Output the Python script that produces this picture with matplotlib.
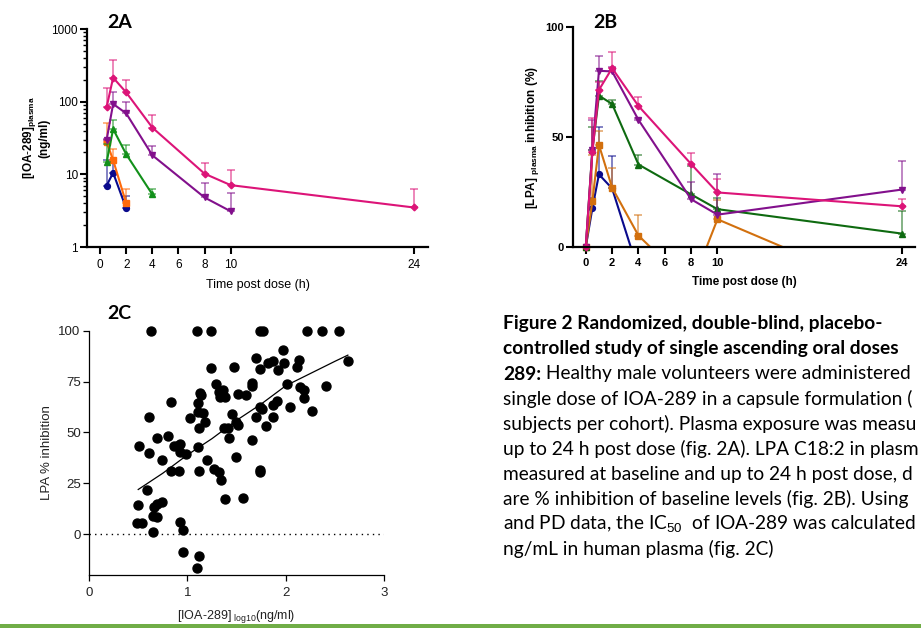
import matplotlib
matplotlib.use("Agg")
import matplotlib.pyplot as plt
import matplotlib.ticker as mticker
from matplotlib.patches import Rectangle
import numpy as np

plt.rcParams['font.family'] = ['Liberation Sans', 'DejaVu Sans']
plt.rcParams['mathtext.fontset'] = 'custom'
plt.rcParams['mathtext.rm'] = 'Liberation Sans'
plt.rcParams['mathtext.bf'] = 'Liberation Sans:bold'

# ---- 2A: plasma concentration (ng/ml), upper error ends
pk_blue_t = [0.5, 1, 2]
pk_blue = [7.0, 10.5, 3.4]
pk_blue_up = [15.7, 15.0, 5.1]
pk_orange_t = [0.5, 1, 2]
pk_orange = [28, 15.7, 4.0]
pk_orange_up = [51, 22, 6.2]
pk_green_t = [0.5, 1, 2, 4]
pk_green = [14.6, 42, 18.9, 5.3]
pk_green_up = [26, 56, 25, 6.3]
pk_purple_t = [0.5, 1, 2, 4, 8, 10]
pk_purple = [29.7, 93, 69, 18.3, 4.8, 3.1]
pk_purple_up = [31, 137, 100, 24.8, 7.7, 5.6]
pk_pink_t = [0.5, 1, 2, 4, 8, 10, 24]
pk_pink = [83.6, 214, 134, 44, 10.2, 7.1, 3.5]
pk_pink_up = [156, 374, 201, 65, 14.3, 11.6, 6.35]

# ---- 2B: LPA inhibition (%)
pd_t = [0, 0.5, 1, 2, 4, 8, 10, 24]
pd_blue_t = [0, 0.5, 1, 2, 4]
pd_blue = [0, 17.6, 33, 26.6, -11]
pd_blue_up = [np.nan, 22.5, 54.4, 41.5, np.nan]
pd_orange = [0, 20.7, 46.4, 27, 5.2, -18, 12.6, -23]
pd_orange_up = [np.nan, 42, 52.9, 35.7, 14.4, np.nan, 21.3, np.nan]
pd_green = [0, 44, 68.8, 65, 37.5, 23.9, 17.2, 6.1]
pd_green_up = [np.nan, 54.7, 75.5, 66.7, 41.6, 36.9, 22.3, 16.4]
pd_purple = [0, 44, 80.1, 79.8, 57.8, 21.7, 14.7, 26.1]
pd_purple_up = [np.nan, 57.8, 87, 82, 58.5, 29.6, 33.4, 38.9]
pd_pink = [0, 43, 71.4, 81.3, 64.1, 37.7, 24.8, 18.5]
pd_pink_up = [np.nan, 58.5, 75, 88.6, 68.4, 42.9, 31.0, 22.0]

# ---- 2C: PK/PD scatter
sc_x = [0.63, 1.10, 1.24, 1.74, 1.77, 2.21, 2.37, 2.54,
        2.63, 1.97, 1.70, 1.74, 1.82, 1.87, 1.92, 1.98, 2.13, 2.11,
        1.24, 1.47, 1.29, 1.32, 1.36, 1.33, 1.38, 1.51, 1.59, 1.66, 1.66,
        2.01, 2.14, 2.18, 2.18, 2.41, 2.27, 2.04, 1.91, 1.87, 1.74, 1.76,
        1.70, 1.87, 1.80, 1.66, 1.74, 1.74,
        1.13, 1.14, 1.11, 1.11, 1.16, 1.03, 1.18, 1.12, 1.45, 1.49, 1.51,
        1.37, 1.41, 1.42, 1.49, 1.11, 1.20, 1.12, 1.27, 1.32, 1.34, 1.38, 1.56,
        0.99, 0.92, 0.89, 0.92, 0.86, 0.80, 0.83, 0.69, 0.61, 0.51, 0.61,
        0.74, 0.83, 0.91, 0.59, 0.50, 0.74, 0.69, 0.66, 0.65, 0.69,
        0.49, 0.54, 0.65, 0.92, 0.95, 0.95, 1.12, 1.10]
sc_y = [100, 100, 100, 100, 100, 100, 100, 100,
        85.1, 90.3, 86.4, 81.2, 84.3, 85.1, 80.7, 84.3, 85.6, 82.2,
        81.8, 82.3, 73.6, 70.0, 70.9, 67.3, 67.6, 68.7, 68.2, 74.1, 72.8,
        73.6, 72.2, 70.9, 67.1, 72.8, 60.7, 62.7, 65.5, 63.5, 62.4, 61.4,
        57.8, 57.4, 53.2, 46.3, 31.6, 30.8,
        69.2, 68.2, 64.3, 60.2, 59.4, 57.3, 55.3, 52.4, 59.1, 55.3, 53.7,
        52.0, 52.0, 47.1, 38.1, 43.0, 36.5, 31.1, 32.1, 30.8, 26.7, 17.2, 18.0,
        39.3, 44.4, 43.4, 40.6, 43.4, 48.3, 65.1, 47.5, 57.4, 43.4, 39.8,
        36.5, 31.1, 31.1, 21.6, 14.4, 16.0, 14.7, 13.6, 9.0, 8.3,
        5.7, 5.4, 1.3, 6.2, 2.1, -8.8, -10.5, -16.7]
fit_x = [0.5, 0.75, 1.0, 1.25, 1.5, 1.75, 2.0, 2.25, 2.5, 2.63]
fit_y = [22, 30, 39, 47, 56, 64, 73, 79, 85, 88]

# caption as it shows inside the cropped panel
caption = [
    [("Figure 2 Randomized, double-blind, placebo-", "bold")],
    [("controlled study of single ascending oral doses", "bold")],
    [("289:", "bold"), (" Healthy male volunteers were administered", "normal")],
    [("single dose of IOA-289 in a capsule formulation (", "normal")],
    [("subjects per cohort). Plasma exposure was measu", "normal")],
    [("up to 24 h post dose (fig. 2A). LPA C18:2 in plasm", "normal")],
    [("measured at baseline and up to 24 h post dose, d", "normal")],
    [("are % inhibition of baseline levels (fig. 2B). Using", "normal")],
    [("and PD data, the IC$_{50}$  of IOA-289 was calculated", "normal")],
    [("ng/mL in human plasma (fig. 2C)", "normal")],
]

W, H = 921, 628
fig = plt.figure(figsize=(W / 100, H / 100), dpi=100)


def axrect(l, r, t, b):
    return [l / W, 1 - b / H, (r - l) / W, (b - t) / H]


def pk_series(ax, t, y, up, color, marker, ms):
    y = np.array(y)
    up = np.array(up)
    ax.errorbar(t, y, yerr=[np.zeros_like(y), up - y], fmt='none', ecolor=color,
                alpha=0.55, elinewidth=1.3, capsize=2.8, capthick=1.3)
    ax.plot(t, y, color=color, lw=1.5, marker=marker, ms=ms, mec=color)


# ---- 2A
axA = fig.add_axes(axrect(87, 428, 29, 247))
pk_series(axA, pk_blue_t, pk_blue, pk_blue_up, '#0A0A8C', 'o', 4.2)
pk_series(axA, pk_orange_t, pk_orange, pk_orange_up, '#FF6A0A', 's', 4.0)
pk_series(axA, pk_green_t, pk_green, pk_green_up, '#12901A', '^', 4.2)
pk_series(axA, pk_purple_t, pk_purple, pk_purple_up, '#82108C', 'v', 4.2)
pk_series(axA, pk_pink_t, pk_pink, pk_pink_up, '#DC1478', 'D', 3.4)
axA.set_yscale('log')
axA.set_ylim(1, 1000)
axA.set_xlim(-1.0, 25.1)
axA.set_xticks([0, 2, 4, 6, 8, 10, 24])
axA.yaxis.set_major_formatter(mticker.FuncFormatter(lambda v, p: f"{v:g}"))
axA.yaxis.set_minor_locator(mticker.LogLocator(base=10, subs=np.arange(2, 10)))
axA.yaxis.set_minor_formatter(mticker.NullFormatter())
axA.tick_params(axis='both', which='major', labelsize=8.5, length=5, width=1.5, pad=1.5)
axA.tick_params(axis='x', which='major', pad=3.5)
axA.tick_params(axis='y', which='minor', length=3, width=1.0)
axA.set_xlabel("Time post dose (h)", fontsize=9, labelpad=6)
axA.set_ylabel(r"$\mathbf{[IOA\text{-}289]_{plasma}}$" + "\n(ng/ml)", fontsize=8.5,
               fontweight='bold', labelpad=1, linespacing=1.05)
axA.text(0.058, 1.03, "2A", transform=axA.transAxes, fontsize=14, fontweight='bold',
         family='Lato', va='center', ha='left')

# ---- 2B
axB = fig.add_axes(axrect(573, 915, 27, 247))
for t, y, up, c, m, ms in [
        (pd_blue_t, pd_blue, pd_blue_up, '#0A0A8C', 'o', 4.2),
        (pd_t, pd_orange, pd_orange_up, '#D2700E', 's', 4.0),
        (pd_t, pd_green, pd_green_up, '#0E6A10', '^', 4.2),
        (pd_t, pd_purple, pd_purple_up, '#82108C', 'v', 4.2),
        (pd_t, pd_pink, pd_pink_up, '#DC1478', 'D', 3.4)]:
    t = np.array(t)
    y = np.array(y)
    up = np.array(up)
    ok = ~np.isnan(up)
    axB.errorbar(t[ok], y[ok], yerr=[np.zeros(ok.sum()), up[ok] - y[ok]], fmt='none',
                 ecolor=c, alpha=0.55, elinewidth=1.3, capsize=2.8, capthick=1.3)
    axB.plot(t, y, color=c, lw=1.5)
    pos = y >= 0
    axB.plot(t[pos], y[pos], ls='none', marker=m, ms=ms, color=c, clip_on=False)
axB.set_ylim(0, 100)
axB.set_xlim(-0.97, 25.0)
axB.set_xticks([0, 2, 4, 6, 8, 10, 24])
axB.set_yticks([0, 50, 100])
axB.tick_params(axis='both', labelsize=8, length=5, width=1.5, pad=1.5)
axB.tick_params(axis='x', pad=3)
for lab in axB.get_xticklabels() + axB.get_yticklabels():
    lab.set_fontweight('bold')
axB.set_xlabel("Time post dose (h)", fontsize=8.5, fontweight='bold', labelpad=6)
axB.set_ylabel(r"$\mathbf{[LPA]}$ $_{\mathbf{plasma}}$ $\mathbf{inhibition\ (\%)}$",
               fontsize=8.5, labelpad=3)
axB.text(0.06, 1.02, "2B", transform=axB.transAxes, fontsize=14, fontweight='bold',
         family='Lato', va='center', ha='left')

for ax in (axA, axB):
    for s in ('top', 'right'):
        ax.spines[s].set_visible(False)
    for s in ('left', 'bottom'):
        ax.spines[s].set_linewidth(1.6)

# ---- 2C
axC = fig.add_axes(axrect(89, 384.3, 330.7, 575))
axC.scatter(sc_x, sc_y, s=42, color='black', zorder=3, clip_on=False)
axC.plot(fit_x, fit_y, color='black', lw=0.9)
axC.axhline(0, color='black', lw=1.0, ls=(0, (1, 3)))
axC.set_xlim(0, 3)
axC.set_ylim(-20, 100)
axC.set_xticks([0, 1, 2, 3])
axC.set_yticks([0, 25, 50, 75, 100])
axC.spines['left'].set_bounds(-20, 100)
for s in ('top', 'right'):
    axC.spines[s].set_visible(False)
for s in ('left', 'bottom'):
    axC.spines[s].set_linewidth(0.9)
axC.tick_params(axis='both', labelsize=9.5, length=4, width=0.9, labelcolor='#222222', pad=2)
axC.tick_params(axis='x', pad=5)
axC.set_xlabel("[IOA-289]$_{\\ \\mathrm{log10}}$(ng/ml)", fontsize=9, color='#222222', labelpad=6)
axC.set_ylabel("LPA % inhibition", fontsize=9.5, color='#222222', labelpad=4)
axC.text(0.063, 1.07, "2C", transform=axC.transAxes, fontsize=14, fontweight='bold',
         family='Lato', va='center', ha='left')

# ---- caption
cap_x = 503.3
fig.canvas.draw()
renderer = fig.canvas.get_renderer()
for i, parts in enumerate(caption):
    x = cap_x / W
    y = 1 - (329.3 + i * 25.1) / H
    for txt, weight in parts:
        t = fig.text(x, y, txt, fontsize=13.8, family='Lato', fontweight=weight,
                     va='baseline', ha='left')
        x = t.get_window_extent(renderer).x1 / fig.bbox.width

# bottom green rule
fig.add_artist(Rectangle((0, 0), 1, 4.5 / H, transform=fig.transFigure,
                         color='#70AD47', lw=0))

fig.savefig("out.png", dpi=100)
